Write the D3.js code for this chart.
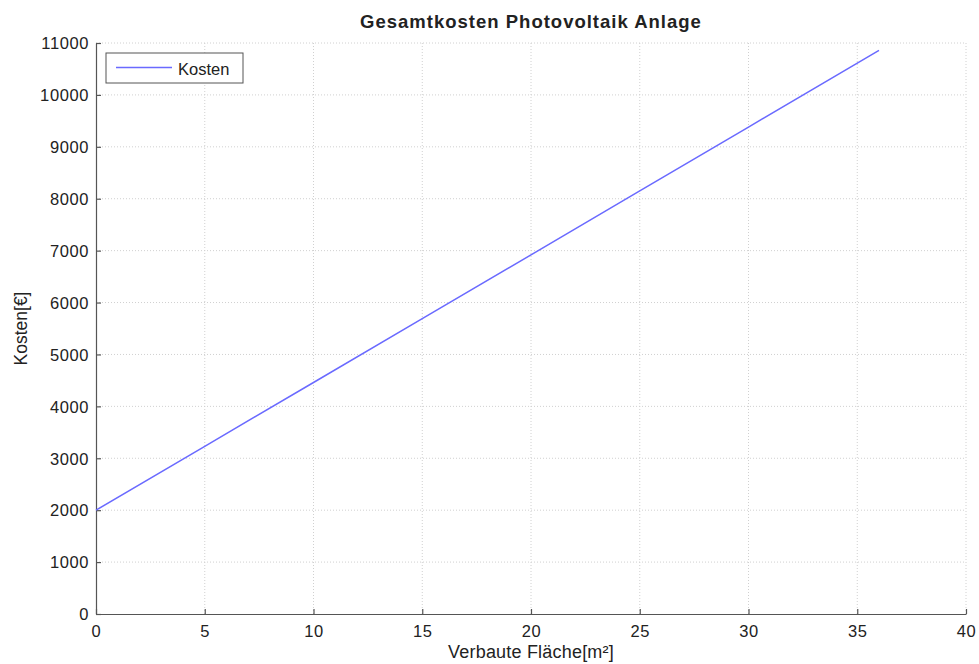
<!DOCTYPE html>
<html>
<head>
<meta charset="utf-8">
<script src="https://cdn.jsdelivr.net/npm/d3@7"></script>
<style>
  html, body { margin: 0; padding: 0; background: #fff; }
  svg text { font-family: "Liberation Sans", Arial, Helvetica, sans-serif; fill: #222; }
</style>
</head>
<body>
<svg id="chart" width="979" height="664"></svg>
<script>
// Fläche in m² and the matching total cost in €
const flaeche = [0, 5, 10, 15, 20, 25, 30, 36];
const kosten = [2000, 3230, 4460, 5690, 6920, 8150, 9380, 10856];
const xTicks = [0, 5, 10, 15, 20, 25, 30, 35, 40];
const yTicks = [0, 1000, 2000, 3000, 4000, 5000, 6000, 7000, 8000, 9000, 10000, 11000];
const seriesName = "Kosten";
const titleText = "Gesamtkosten Photovoltaik Anlage";
const xLabelText = "Verbaute Fläche[m²]";
const yLabelText = "Kosten[€]";

const svg = d3.select("#chart");
const m = { left: 96, right: 13, top: 43, bottom: 50 };
const W = 979, H = 664;

const x = d3.scaleLinear().domain([0, 40]).range([m.left, W - m.right]);
const y = d3.scaleLinear().domain([0, 11000]).range([H - m.bottom, m.top]);

// dotted grid
const grid = svg.append("g").attr("stroke", "#d0d0d0").attr("stroke-dasharray", "1,2").attr("stroke-width", 1);
xTicks.forEach(t => {
  if (t === 0) return;
  grid.append("line").attr("x1", x(t)).attr("x2", x(t)).attr("y1", y(0)).attr("y2", y(11000));
});
yTicks.forEach(t => {
  if (t === 0) return;
  grid.append("line").attr("x1", x(0)).attr("x2", x(40)).attr("y1", y(t)).attr("y2", y(t));
});

// axes with inward ticks
const xAxis = svg.append("g").attr("transform", `translate(0,${y(0)})`)
  .call(d3.axisBottom(x).tickValues(xTicks).tickSizeInner(-5).tickSizeOuter(0).tickPadding(11));
const yAxis = svg.append("g").attr("transform", `translate(${x(0)},0)`)
  .call(d3.axisLeft(y).tickValues(yTicks).tickFormat(d3.format("d")).tickSizeInner(-5).tickSizeOuter(0).tickPadding(7));
[xAxis, yAxis].forEach(a => {
  a.selectAll("path, line").attr("stroke", "#555").attr("stroke-width", 1.2);
  a.selectAll("text").attr("font-size", 16.5).attr("letter-spacing", 0.6)
    .style("font-family", '"Liberation Sans", Arial, sans-serif').attr("fill", "#222");
});
yAxis.selectAll("text").attr("dy", "0.35em");

// cost line
svg.append("path")
  .datum(flaeche.map((f, i) => [f, kosten[i]]))
  .attr("fill", "none")
  .attr("stroke", "#6a6aff")
  .attr("stroke-width", 1.5)
  .attr("d", d3.line().x(d => x(d[0])).y(d => y(d[1])));

// title and axis labels
svg.append("text").attr("x", (x(0) + x(40)) / 2).attr("y", 28).attr("text-anchor", "middle")
  .attr("font-size", 18.5).attr("font-weight", "bold").attr("letter-spacing", 1).text(titleText);
svg.append("text").attr("x", (x(0) + x(40)) / 2).attr("y", 658).attr("text-anchor", "middle")
  .attr("font-size", 18).attr("letter-spacing", 0.2).text(xLabelText);
svg.append("text").attr("transform", `translate(27,${(y(0) + y(11000)) / 2}) rotate(-90)`)
  .attr("text-anchor", "middle").attr("font-size", 17.5).text(yLabelText);

// legend
const lg = svg.append("g").attr("transform", "translate(106,53)");
lg.append("rect").attr("width", 137).attr("height", 30).attr("fill", "#fff").attr("stroke", "#555").attr("stroke-width", 1);
lg.append("line").attr("x1", 10).attr("x2", 66).attr("y1", 14.5).attr("y2", 14.5).attr("stroke", "#6a6aff").attr("stroke-width", 1.5);
lg.append("text").attr("x", 72).attr("y", 21.5).attr("font-size", 16.5).text(seriesName);
</script>
</body>
</html>
